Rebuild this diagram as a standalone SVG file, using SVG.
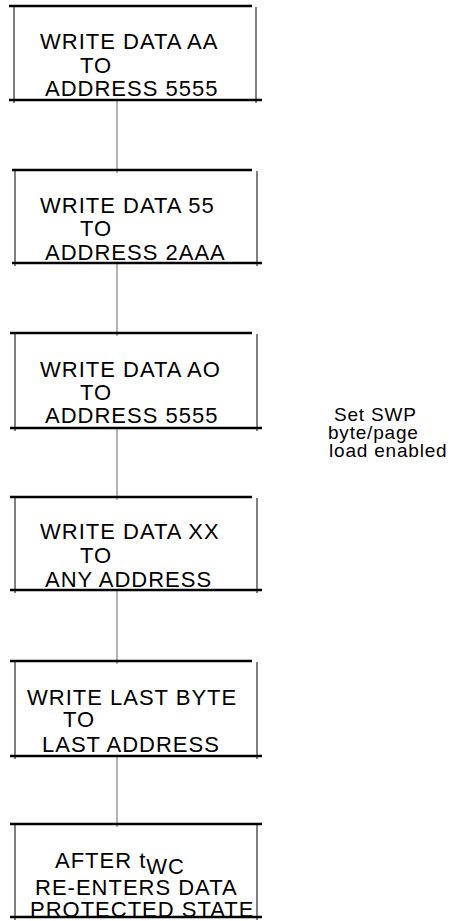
<svg xmlns="http://www.w3.org/2000/svg" width="462" height="921" viewBox="0 0 462 921">
<style>
.bg{fill:#fff}
.hl{stroke:#000;stroke-width:2.5;fill:none}
.vl{stroke:#000;stroke-width:1;fill:none}
.cn{stroke:#808080;stroke-width:1.2;fill:none}
text{font-family:"Liberation Sans",Arial,sans-serif;font-size:22px;fill:#000;letter-spacing:1px}
.side{font-size:19px;letter-spacing:0.8px}
</style>
<rect class="bg" x="0" y="0" width="462" height="921"/>
<g id="connectors">
<line class="cn" x1="117" y1="100" x2="117" y2="173"/>
<line class="cn" x1="117" y1="263" x2="117" y2="336"/>
<line class="cn" x1="117" y1="428" x2="117" y2="500"/>
<line class="cn" x1="117" y1="590" x2="117" y2="664"/>
<line class="cn" x1="117" y1="756" x2="117" y2="827"/>
</g>
<g id="n1">
<line class="hl" x1="9" y1="6" x2="252" y2="6"/>
<line class="vl" x1="14" y1="7" x2="14" y2="103"/>
<line class="vl" x1="256" y1="7" x2="256" y2="103"/>
<line class="hl" x1="9" y1="100" x2="262" y2="100"/>
<text x="40" y="49">WRITE DATA AA</text>
<text x="80" y="73">TO</text>
<text x="45" y="96">ADDRESS 5555</text>
</g>
<g id="n2">
<line class="hl" x1="12" y1="170" x2="252" y2="170"/>
<line class="vl" x1="15" y1="171" x2="15" y2="266"/>
<line class="vl" x1="257" y1="171" x2="257" y2="266"/>
<line class="hl" x1="12" y1="263" x2="262" y2="263"/>
<text x="40" y="213">WRITE DATA 55</text>
<text x="80" y="236">TO</text>
<text x="45" y="260">ADDRESS 2AAA</text>
</g>
<g id="n3">
<line class="hl" x1="10" y1="333" x2="252" y2="333"/>
<line class="vl" x1="15" y1="334" x2="15" y2="431"/>
<line class="vl" x1="257" y1="334" x2="257" y2="431"/>
<line class="hl" x1="10" y1="428" x2="262" y2="428"/>
<text x="40" y="377">WRITE DATA AO</text>
<text x="80" y="400">TO</text>
<text x="45" y="423">ADDRESS 5555</text>
</g>
<g id="n4">
<line class="hl" x1="10" y1="497" x2="252" y2="497"/>
<line class="vl" x1="15" y1="498" x2="15" y2="593"/>
<line class="vl" x1="257" y1="498" x2="257" y2="593"/>
<line class="hl" x1="10" y1="590" x2="262" y2="590"/>
<text x="40" y="539">WRITE DATA XX</text>
<text x="80" y="563">TO</text>
<text x="45" y="587">ANY ADDRESS</text>
</g>
<g id="n5">
<line class="hl" x1="10" y1="661" x2="252" y2="661"/>
<line class="vl" x1="15" y1="662" x2="15" y2="759"/>
<line class="vl" x1="257" y1="662" x2="257" y2="759"/>
<line class="hl" x1="10" y1="756" x2="262" y2="756"/>
<text x="27" y="705">WRITE LAST BYTE</text>
<text x="63" y="727">TO</text>
<text x="42" y="752">LAST ADDRESS</text>
</g>
<g id="n6">
<line class="hl" x1="10" y1="824" x2="262" y2="824"/>
<line class="vl" x1="15" y1="825" x2="15" y2="920"/>
<line class="vl" x1="257" y1="825" x2="257" y2="920"/>
<line class="hl" x1="10" y1="917" x2="262" y2="917"/>
<text x="55" y="868">AFTER t<tspan dy="6">WC</tspan></text>
<text x="35" y="895">RE-ENTERS DATA</text>
<text x="30" y="917">PROTECTED STATE</text>
</g>
<g id="label">
<text class="side" x="334" y="421">Set SWP</text>
<text class="side" x="328" y="439">byte/page</text>
<text class="side" x="329" y="457">load enabled</text>
</g>
</svg>
